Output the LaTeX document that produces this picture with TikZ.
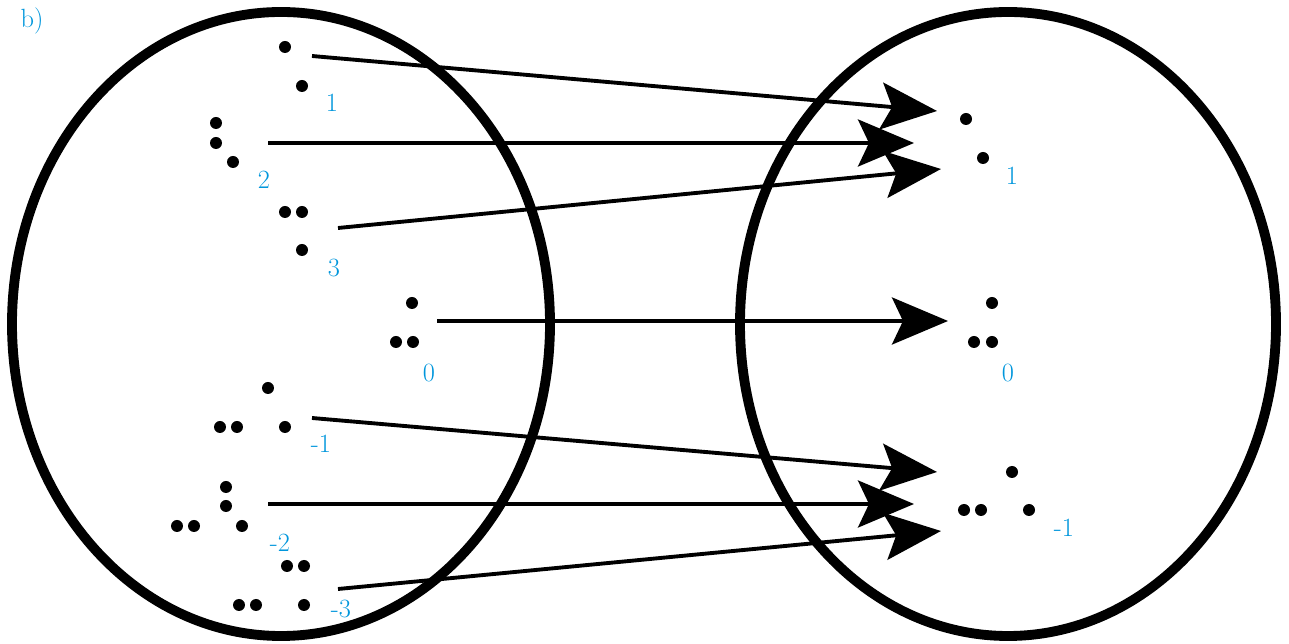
\documentclass[tikz,border=0pt]{standalone}
\usepackage{xcolor}
\usepackage{tikz}
\usetikzlibrary{arrows.meta}
\definecolor{labelblue}{RGB}{0,150,220}
\tikzset{
    setring/.style={line width=5.6pt},
    mapline/.style={-{Stealth[length=1.12cm, width=0.94cm, inset=0.22cm]}, line width=2.2pt},
    bead/.style={fill=black},
    numlabel/.style={text=labelblue, font=\fontsize{15}{18}\selectfont, inner sep=0pt}
}

\begin{document}
\begin{tikzpicture}[x=0.02cm, y=-0.02cm]
  \useasboundingbox (0,0) rectangle (1289,644);
  \node[numlabel] (part) at (32,21) {b)};
  % the two sets
  \draw[setring] (281,324) ellipse [x radius=269, y radius=312];
  \draw[setring] (1008,324) ellipse [x radius=268, y radius=312];
  % dot patterns, left set
  \foreach \px/\py in {285/47, 302/86,
                       216/123, 216/143, 233/162,
                       285/212, 302/212, 302/250,
                       412/303, 396/342, 413/342,
                       268/388, 220/427, 237/427, 285/427,
                       226/487, 226/506, 177/526, 194/526, 242/526,
                       287/566, 304/566, 239/605, 256/605, 304/605}
    \fill[bead] (\px,\py) circle [radius=0.12cm];
  % dot patterns, right set
  \foreach \px/\py in {966/119, 983/158,
                       992/303, 974/342, 992/342,
                       1012/472, 964/510, 981/510, 1029/510}
    \fill[bead] (\px,\py) circle [radius=0.12cm];
  % labels
  \node[numlabel] (a1) at (332,103) {1};
  \node[numlabel] (a2) at (264,180) {2};
  \node[numlabel] (a3) at (334,268) {3};
  \node[numlabel] (a0) at (429,373) {0};
  \node[numlabel] (am1) at (321,444) {-1};
  \node[numlabel] (am2) at (280,543) {-2};
  \node[numlabel] (am3) at (341,609) {-3};
  \node[numlabel] (b1) at (1012,176) {1};
  \node[numlabel] (b0) at (1008,373) {0};
  \node[numlabel] (bm1) at (1064,528) {-1};
  % arrow ends
  \coordinate (s1) at (312,56);   \coordinate (t1) at (937,111);
  \coordinate (s2) at (268,143);  \coordinate (t2) at (914,143);
  \coordinate (s3) at (338,228);  \coordinate (t3) at (941,169);
  \coordinate (s0) at (437,321);  \coordinate (t0) at (948,321);
  \coordinate (sm1) at (312,418); \coordinate (tm1) at (937,472);
  \coordinate (sm2) at (268,504); \coordinate (tm2) at (914,504);
  \coordinate (sm3) at (338,589); \coordinate (tm3) at (941,531);
  \draw[mapline] (s1) -- (t1);
  \draw[mapline] (s2) -- (t2);
  \draw[mapline] (s3) -- (t3);
  \draw[mapline] (s0) -- (t0);
  \draw[mapline] (sm1) -- (tm1);
  \draw[mapline] (sm2) -- (tm2);
  \draw[mapline] (sm3) -- (tm3);
\end{tikzpicture}
\end{document}
